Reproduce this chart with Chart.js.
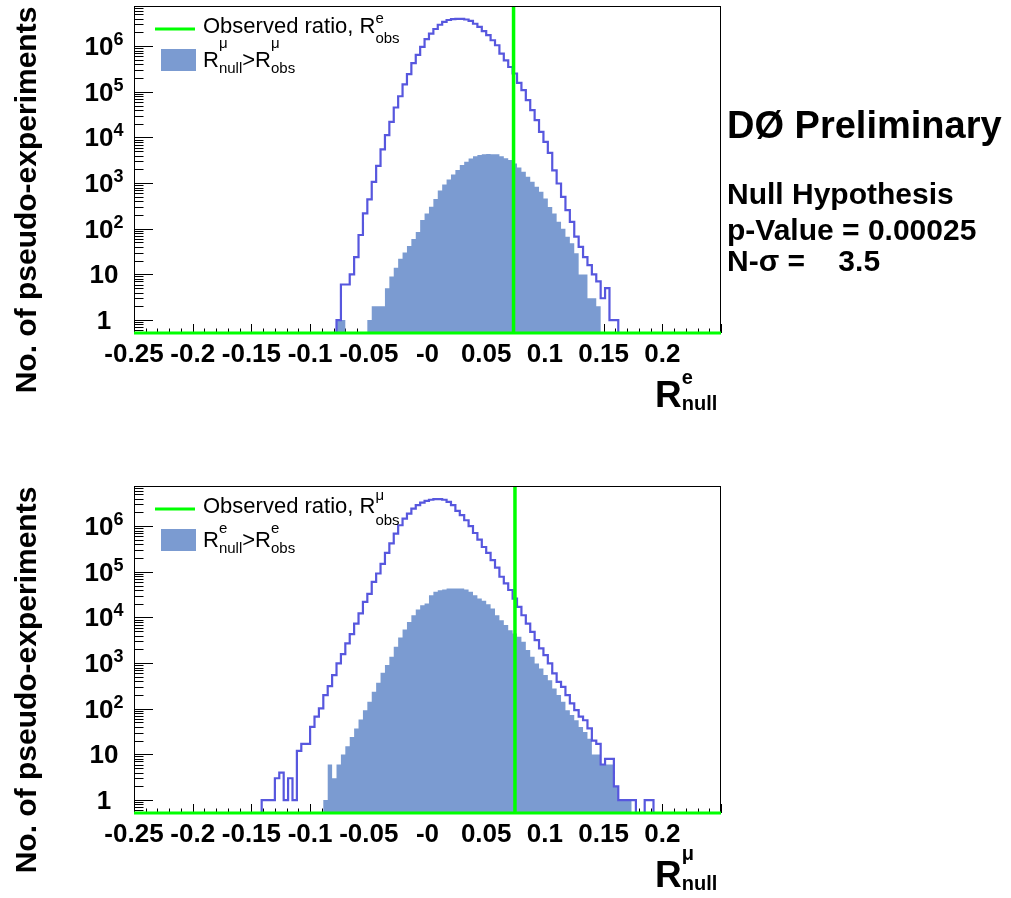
<!DOCTYPE html>
<html>
<head>
<meta charset="utf-8">
<title>Null hypothesis pseudo-experiments</title>
<script src="https://cdn.jsdelivr.net/npm/chart.js@4.4.1/dist/chart.umd.min.js"></script>
<style>
    html, body { margin: 0; padding: 0; background: #ffffff; }
    #page { position: relative; width: 1011px; height: 898px; }
    canvas { position: absolute; left: 0; }
    #topCanvas { top: 0; }
    #bottomCanvas { top: 449px; }
</style>
</head>
<body>
<div id="page">
    <canvas id="topCanvas" width="1011" height="449"></canvas>
    <canvas id="bottomCanvas" width="1011" height="449"></canvas>
</div>
<script>
const FONT = "'Liberation Sans', Arial, Helvetica, sans-serif";

const xMin = -0.25;
const xMax = 0.25;
const yMin = 0.52;
const yMax = 7.6e6;
const binWidth = 0.00375;
const xTickLabels = ["-0.25", "-0.2", "-0.15", "-0.1", "-0.05", "-0", "0.05", "0.1", "0.15", "0.2", ""];
const yDecades = [0, 1, 2, 3, 4, 5, 6];

// top panel, R^e_null
const topFirstEdge = -0.0775;
const topAll = [
    1, 6, 6, 10, 24, 73, 217, 440, 1070, 2390, 5460, 11250, 22000, 45400, 80000, 146000,
    245000, 425000, 645000, 966000, 1430000, 1890000, 2380000, 2950000, 3400000, 3750000,
    3900000, 3950000, 3950000, 3850000, 3600000, 3100000, 2650000, 2130000, 1740000, 1350000,
    1050000, 690000, 490000, 350000, 252000, 157000, 109000, 65700, 39700, 24000, 13300, 8000,
    4600, 1900, 980, 500, 256, 142, 67, 40, 24, 16, 10, 7, 3, 5, 1, 1,
];
const topAbove = [
    1, 1, 0, 0, 0, 0, 0, 1, 2, 2, 2, 5, 9, 14, 22, 30, 42, 60, 85, 155, 217, 303, 450, 690,
    930, 1200, 1550, 1950, 2500, 2930, 3450, 3900, 4150, 4300, 4350, 4300, 4300, 3900, 3500,
    3200, 2700, 2200, 1770, 1380, 1070, 830, 650, 460, 300, 217, 142, 100, 67, 48, 29, 10, 10,
    3, 3, 2, 0, 0, 0, 0,
];
const topObserved = 0.0733;

// bottom panel, R^mu_null
const bottomFirstEdge = -0.14125;
const bottomAll = [
    1, 1, 1, 3, 4, 1, 3, 1, 12, 17, 17, 40, 67, 102, 199, 313, 546, 984, 1580, 2700, 4320,
    7300, 12300, 22000, 33000, 60000, 92000, 150000, 260000, 420000, 690000, 1050000, 1470000,
    1890000, 2430000, 2900000, 3300000, 3600000, 3800000, 3900000, 3900000, 3800000, 3400000,
    2900000, 2170000, 1740000, 1350000, 1000000, 710000, 510000, 350000, 260000, 180000,
    124000, 78000, 56000, 40000, 26000, 17100, 11200, 7300, 4850, 3200, 2100, 1500, 984, 594,
    390, 303, 199, 131, 93, 67, 56, 37, 20, 17, 6, 8, 8, 2, 1, 1, 1, 1, 0, 0, 1, 1,
];
const bottomAbove = [
    0, 0, 0, 0, 0, 0, 0, 0, 0, 0, 0, 0, 0, 0, 1, 6, 3, 6, 10, 15, 24, 37, 58, 93, 142, 236,
    371, 614, 910, 1380, 2280, 3650, 5460, 8000, 11200, 14970, 18600, 20270, 30800, 36500,
    39700, 41000, 43200, 43200, 43200, 43200, 41000, 36500, 30800, 26000, 23200, 19600, 15700,
    11200, 8750, 6800, 5280, 4470, 3770, 2930, 1930, 1375, 984, 764, 546, 424, 279, 199, 142,
    93, 73, 56, 40, 31, 22, 10, 10, 6, 6, 6, 2, 1, 1, 1, 0, 0, 0, 0, 0,
];
const bottomObserved = 0.0745;

function setFont(ctx, size, bold) {
    ctx.font = (bold ? "bold " : "") + size + "px " + FONT;
}

// draws text runs; {sup, sub} entries are stacked scripts
function drawPieces(ctx, x, y, pieces) {
    let cx = x;
    pieces.forEach((p) => {
        setFont(ctx, p.size, p.bold);
        if (p.text !== undefined) {
            ctx.fillText(p.text, cx, y);
            cx += ctx.measureText(p.text).width;
        } else {
            ctx.fillText(p.sup, cx, y + p.supDy);
            ctx.fillText(p.sub, cx, y + p.subDy);
            cx += Math.max(ctx.measureText(p.sup).width, ctx.measureText(p.sub).width);
        }
    });
}

function stepPoints(firstEdge, counts) {
    const points = [{ x: xMin, y: yMin }];
    counts.forEach((c, i) => {
        points.push({ x: firstEdge + i * binWidth, y: c > 0 ? c : yMin });
    });
    points.push({ x: firstEdge + counts.length * binWidth, y: yMin });
    points.push({ x: xMax, y: yMin });
    return points;
}

const rootFrame = {
    id: "rootFrame",
    beforeDatasetsDraw(chart) {
        const { ctx, chartArea: a } = chart;
        const xs = chart.scales.x;
        const ys = chart.scales.y;
        ctx.save();
        ctx.strokeStyle = "#000000";
        ctx.lineWidth = 1;
        ctx.beginPath();
        for (let i = -25; i <= 25; i++) {
            const px = Math.round(xs.getPixelForValue(i / 100)) + 0.5;
            const len = i % 5 === 0 ? 9 : 4.5;
            ctx.moveTo(px, a.bottom);
            ctx.lineTo(px, a.bottom - len);
        }
        for (let d = -1; d <= 6; d++) {
            for (let m = 1; m <= 9; m++) {
                const v = m * Math.pow(10, d);
                if (v < yMin || v > yMax) continue;
                const py = Math.round(ys.getPixelForValue(v)) + 0.5;
                ctx.moveTo(a.left, py);
                ctx.lineTo(a.left + (m === 1 ? 19 : 9.5), py);
            }
        }
        ctx.stroke();
        ctx.restore();
    },
    afterDraw(chart, args, opts) {
        const { ctx, chartArea: a } = chart;
        const ys = chart.scales.y;
        ctx.save();

        ctx.strokeStyle = "#000000";
        ctx.lineWidth = 1;
        ctx.strokeRect(a.left + 0.5, a.top + 0.5, a.right - a.left - 1, a.bottom - a.top);

        ctx.strokeStyle = "#00ff00";
        ctx.lineWidth = 3;
        ctx.beginPath();
        ctx.moveTo(a.left, a.bottom);
        ctx.lineTo(a.right, a.bottom);
        ctx.stroke();

        // log axis labels: 1, 10, 10^n
        ctx.fillStyle = "#000000";
        ctx.textBaseline = "alphabetic";
        ctx.textAlign = "left";
        yDecades.forEach((d) => {
            const py = ys.getPixelForValue(Math.pow(10, d));
            const base = d === 0 ? "1" : "10";
            const exp = d >= 2 ? String(d) : "";
            setFont(ctx, 26, true);
            const wBase = ctx.measureText(base).width;
            setFont(ctx, 18, true);
            const wExp = exp ? ctx.measureText(exp).width : 0;
            const x0 = a.left - 30 - (wBase + wExp) / 2;
            setFont(ctx, 26, true);
            ctx.fillText(base, x0, py + 9);
            if (exp) {
                setFont(ctx, 18, true);
                ctx.fillText(exp, x0 + wBase, py - 1);
            }
        });

        // y title
        ctx.save();
        ctx.translate(36, opts.yTitleY);
        ctx.rotate(-Math.PI / 2);
        ctx.textAlign = "center";
        setFont(ctx, 30, true);
        ctx.fillText("No. of pseudo-experiments", 0, 0);
        ctx.restore();

        // x title
        drawPieces(ctx, 655, opts.xTitleY, [
            { text: "R", size: 37, bold: true },
            { sup: opts.flavour, sub: "null", size: 20, bold: true, supDy: opts.xTitleSupDy, subDy: 3 },
        ]);

        // legend
        const lx = a.left;
        const ly = a.top;
        ctx.strokeStyle = "#00ff00";
        ctx.lineWidth = 3;
        ctx.beginPath();
        ctx.moveTo(lx + 21, ly + 23);
        ctx.lineTo(lx + 61, ly + 23);
        ctx.stroke();
        ctx.fillStyle = "#7b9bd1";
        ctx.fillRect(lx + 27, ly + 43, 35, 22);
        ctx.fillStyle = "#000000";
        drawPieces(ctx, lx + 69, ly + 27, [
            { text: "Observed ratio, R", size: 22 },
            { sup: opts.obsFlavour, sub: "obs", size: 15, supDy: opts.obsSupDy, subDy: opts.obsSubDy },
        ]);
        drawPieces(ctx, lx + 69, ly + 61, [
            { text: "R", size: 22 },
            { sup: opts.nullFlavour, sub: "null", size: 15, supDy: opts.nullSupDy, subDy: 6 },
            { text: ">", size: 22 },
            { text: "R", size: 22 },
            { sup: opts.nullFlavour, sub: "obs", size: 15, supDy: opts.nullSupDy, subDy: 6 },
        ]);

        if (opts.notes) {
            setFont(ctx, 38, true);
            ctx.fillText("DØ Preliminary", 727, 138);
            setFont(ctx, 30, true);
            ctx.fillText("Null Hypothesis", 727, 204);
            ctx.fillText("p-Value = 0.00025", 727, 240);
            ctx.fillText("N-σ =    3.5", 727, 271);
        }
        ctx.restore();
    },
};

function makeChart(canvas, first, all, above, observed, setup) {
    return new Chart(canvas, {
        type: "line",
        data: {
            datasets: [
                {
                    label: "Observed ratio",
                    data: [{ x: observed, y: yMin }, { x: observed, y: yMax }],
                    borderColor: "#00ff00",
                    borderWidth: 3.5,
                    pointRadius: 0,
                    order: 0,
                },
                {
                    label: "All pseudo-experiments",
                    data: stepPoints(first, all),
                    stepped: "before",
                    borderColor: "#5757de",
                    borderWidth: 2.2,
                    pointRadius: 0,
                    fill: false,
                    order: 1,
                },
                {
                    label: "Above observed",
                    data: stepPoints(first, above),
                    stepped: "before",
                    borderWidth: 0,
                    borderColor: "rgba(0,0,0,0)",
                    backgroundColor: "#7b9bd1",
                    fill: "start",
                    pointRadius: 0,
                    order: 2,
                },
            ],
        },
        options: {
            responsive: false,
            animation: false,
            events: [],
            layout: { padding: { left: 134, right: 290, top: setup.padTop, bottom: 0 } },
            plugins: {
                legend: { display: false },
                tooltip: { enabled: false },
                rootFrame: setup.frame,
            },
            scales: {
                x: {
                    type: "linear",
                    min: xMin,
                    max: xMax,
                    grid: { display: false, drawTicks: false },
                    border: { display: false },
                    ticks: {
                        stepSize: 0.05,
                        autoSkip: false,
                        minRotation: 0,
                        maxRotation: 0,
                        padding: 6,
                        color: "#000000",
                        font: { family: FONT, size: 26, weight: "bold" },
                        callback: (value) => xTickLabels[Math.round(value / 0.05) + 5],
                    },
                    afterFit: (scale) => {
                        scale.height = setup.xHeight;
                    },
                },
                y: {
                    type: "logarithmic",
                    min: yMin,
                    max: yMax,
                    display: false,
                },
            },
        },
        plugins: [rootFrame],
    });
}

makeChart(document.getElementById("topCanvas"), topFirstEdge, topAll, topAbove, topObserved, {
    padTop: 6,
    xHeight: 116,
    frame: {
        yTitleY: 200, xTitleY: 407, flavour: "e", xTitleSupDy: -23,
        obsFlavour: "e", obsSupDy: -10, obsSubDy: 10,
        nullFlavour: "μ", nullSupDy: -19,
        notes: true,
    },
});

makeChart(document.getElementById("bottomCanvas"), bottomFirstEdge, bottomAll, bottomAbove, bottomObserved, {
    padTop: 37,
    xHeight: 85,
    frame: {
        yTitleY: 231, xTitleY: 438, flavour: "μ", xTitleSupDy: -27,
        obsFlavour: "μ", obsSupDy: -13, obsSubDy: 12,
        nullFlavour: "e", nullSupDy: -14,
        notes: false,
    },
});
</script>
</body>
</html>
